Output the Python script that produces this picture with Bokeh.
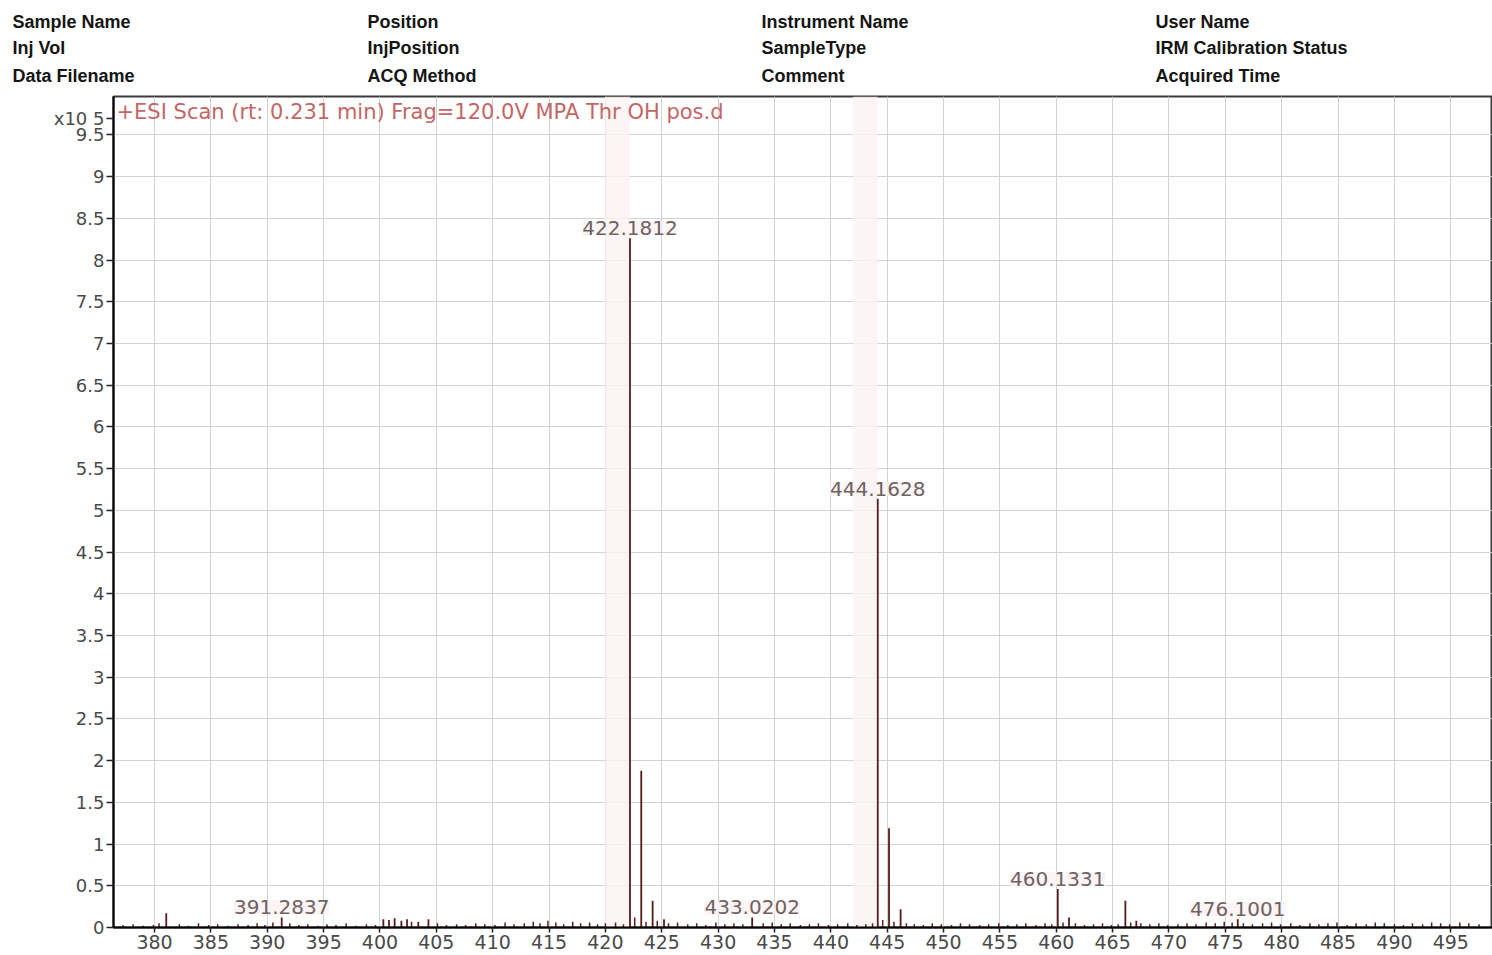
from bokeh.plotting import figure
from bokeh.models import Range1d, FixedTicker, CustomJSTickFormatter, Label, LabelSet, ColumnDataSource
from bokeh.core.properties import value
from bokeh.embed import file_html
from bokeh.resources import INLINE

# ---------------- data ----------------
x_ticks = [380, 385, 390, 395, 400, 405, 410, 415, 420, 425, 430, 435, 440, 445,
           450, 455, 460, 465, 470, 475, 480, 485, 490, 495]
y_ticks = [0, 0.5, 1, 1.5, 2, 2.5, 3, 3.5, 4, 4.5, 5, 5.5, 6, 6.5, 7, 7.5, 8, 8.5, 9, 9.5]
y_multiplier = "x10 5"

# main peaks: m/z and intensity (x10^5 counts)
peak_mz = [381.04, 391.2837, 400.3, 400.8, 401.3, 401.9, 402.4, 403.4, 404.3,
           422.1812, 423.18, 424.19, 425.2, 433.0202, 444.1628, 445.16, 446.19,
           460.1331, 461.13, 466.13, 467.1, 476.1001]
peak_int = [0.17, 0.12, 0.10, 0.09, 0.11, 0.08, 0.10, 0.07, 0.10,
            8.26, 1.88, 0.32, 0.10, 0.12, 5.14, 1.19, 0.22,
            0.46, 0.12, 0.32, 0.08, 0.10]

# labelled peaks
label_mz = [391.2837, 422.1812, 433.0202, 444.1628, 460.1331, 476.1001]
label_int = [0.12, 8.26, 0.12, 5.14, 0.46, 0.10]

# highlighted (selected) peaks
band_mz = [422.1812, 444.1628]

# baseline noise sticks
noise_mz = [
    377.2, 378.1, 379.0, 379.9, 380.4, 382.2, 383.0, 383.9, 384.8, 385.6,
    386.5, 387.4, 388.3, 389.1, 389.8, 390.5, 392.0, 392.8, 393.6, 394.5,
    395.3, 396.1, 397.0, 397.9, 398.8, 399.6, 402.8, 405.1, 405.9, 406.8,
    407.6, 408.5, 409.3, 410.2, 411.1, 411.9, 412.8, 413.6, 414.2, 414.9,
    415.6, 416.3, 417.1, 417.8, 418.6, 419.3, 420.0, 420.9, 421.6, 422.6,
    423.6, 424.6, 425.6, 426.4, 427.3, 428.1, 428.9, 429.8, 430.6, 431.4,
    432.2, 434.0, 434.8, 435.6, 436.4, 437.3, 438.1, 438.9, 439.8, 440.6,
    441.5, 442.3, 443.1, 443.7, 444.6, 445.6, 446.7, 447.4, 448.2, 449.0,
    449.8, 450.7, 451.5, 452.3, 453.2, 454.0, 454.9, 455.7, 456.5, 457.3,
    458.2, 459.0, 459.6, 460.6, 461.7, 462.5, 463.3, 464.1, 464.9, 465.5,
    466.6, 467.5, 468.3, 469.1, 469.9, 470.8, 471.6, 472.4, 473.3, 474.1,
    474.9, 475.6, 476.6, 477.4, 478.3, 479.1, 479.9, 480.8, 481.6, 482.5,
    483.3, 484.1, 484.9, 485.8, 486.6, 487.5, 488.3, 489.1, 490.0, 490.8,
    491.6, 492.5, 493.3, 494.1, 494.9, 495.8, 496.6, 497.5]
noise_int = [
    0.03, 0.04, 0.02, 0.03, 0.05, 0.04, 0.02, 0.05, 0.03, 0.04,
    0.02, 0.04, 0.03, 0.05, 0.03, 0.06, 0.05, 0.03, 0.04, 0.02,
    0.04, 0.03, 0.05, 0.02, 0.04, 0.03, 0.07, 0.05, 0.03, 0.04,
    0.03, 0.05, 0.04, 0.03, 0.06, 0.04, 0.05, 0.07, 0.05, 0.08,
    0.06, 0.04, 0.07, 0.05, 0.06, 0.04, 0.05, 0.06, 0.04, 0.12,
    0.07, 0.08, 0.05, 0.06, 0.04, 0.05, 0.03, 0.06, 0.04, 0.05,
    0.04, 0.05, 0.06, 0.04, 0.05, 0.03, 0.04, 0.05, 0.03, 0.04,
    0.05, 0.03, 0.04, 0.05, 0.09, 0.07, 0.05, 0.04, 0.03, 0.05,
    0.04, 0.03, 0.05, 0.04, 0.03, 0.04, 0.05, 0.03, 0.04, 0.05,
    0.03, 0.05, 0.04, 0.06, 0.05, 0.03, 0.04, 0.05, 0.03, 0.04,
    0.06, 0.05, 0.04, 0.05, 0.03, 0.04, 0.05, 0.04, 0.06, 0.05,
    0.07, 0.06, 0.05, 0.04, 0.05, 0.06, 0.04, 0.05, 0.03, 0.05,
    0.04, 0.05, 0.06, 0.03, 0.05, 0.04, 0.06, 0.05, 0.04, 0.03,
    0.05, 0.04, 0.06, 0.05, 0.04, 0.06, 0.05, 0.04]

header_cols = [
    ["Sample Name", "Inj Vol", "Data Filename"],
    ["Position", "InjPosition", "ACQ Method"],
    ["Instrument Name", "SampleType", "Comment"],
    ["User Name", "IRM Calibration Status", "Acquired Time"],
]
scan_title = "+ESI Scan (rt: 0.231 min) Frag=120.0V MPA  Thr  OH  pos.d"

# ---------------- layout ----------------
W = 1492
HH = 88            # header strip height
H = 865            # main figure height
FL, FT, FB, FR = 113, 8, 26, 0
X0, X1 = 376.36, 498.7
Y0, Y1 = 0.0, 9.96
MULT_Y = 9.70      # vertical place of the "x10 5" multiplier on the y axis


def dx(fx):
    return X0 + (fx - FL) * (X1 - X0) / (W - FL - FR)


def dy(fy):
    return Y0 + (H - FB - fy) * (Y1 - Y0) / (H - FB - FT)


# ---- header strip (pixel-like data space, y downwards) ----
hdr = figure(width=W, height=HH, output_backend="svg", toolbar_location=None,
             x_range=Range1d(0, W), y_range=Range1d(HH, 0),
             x_axis_type=None, y_axis_type=None, min_border=0)
hdr.outline_line_color = None
hdr.grid.visible = False
col_x = [12, 367, 761, 1155]
row_y = [21, 47, 75]
for cx, col in zip(col_x, header_cols):
    for ry, txt in zip(row_y, col):
        hdr.add_layout(Label(x=cx, y=ry, text=txt, text_align="left",
                             text_baseline="middle", text_font="Liberation Sans",
                             text_font_style="bold", text_font_size="18px",
                             text_color="#151515"))

# ---- spectrum ----
p = figure(width=W, height=H, output_backend="svg", toolbar_location=None,
           x_range=Range1d(X0, X1), y_range=Range1d(Y0, Y1),
           min_border_left=FL, min_border_top=FT, min_border_bottom=FB,
           min_border_right=FR)
p.background_fill_color = "white"
p.border_fill_color = "white"
p.outline_line_color = "#3a3a3a"
p.outline_line_width = 2

tick_font = "DejaVu Sans"
for ax in (p.xaxis[0], p.yaxis[0]):
    ax.axis_line_color = "black"
    ax.axis_line_width = 2
    ax.major_tick_line_color = "#222222"
    ax.major_tick_line_width = 1.5
    ax.minor_tick_line_color = None
    ax.major_label_text_font = tick_font
    ax.major_label_text_color = "#4a4a4a"

p.xaxis.ticker = FixedTicker(ticks=x_ticks)
p.xaxis.major_tick_in = 0
p.xaxis.major_tick_out = 5
p.xaxis.major_label_standoff = 2
p.xaxis.major_label_text_font_size = "19px"

p.yaxis.ticker = FixedTicker(ticks=y_ticks + [MULT_Y])
p.yaxis.formatter = CustomJSTickFormatter(
    args=dict(mpos=MULT_Y, mtext=y_multiplier),
    code="return Math.abs(tick - mpos) < 1e-9 ? mtext : String(tick);")
p.yaxis.major_tick_in = 0
p.yaxis.major_tick_out = 7
p.yaxis.major_label_standoff = 2
p.yaxis.major_label_text_font_size = "18px"

p.xgrid.grid_line_color = "#d2d2d2"
p.ygrid.grid_line_color = "#d2d2d2"
p.ygrid.ticker = FixedTicker(ticks=y_ticks)
p.xgrid.grid_line_width = 1
p.ygrid.grid_line_width = 1

# highlight bands behind selected peaks
p.quad(left=[m - 2.2 for m in band_mz], right=band_mz,
       bottom=[Y0] * len(band_mz), top=[Y1] * len(band_mz),
       fill_color="#fdf2f2", fill_alpha=0.8, line_color=None)

# noise sticks
p.segment(x0=noise_mz, y0=[0] * len(noise_mz), x1=noise_mz, y1=noise_int,
          line_color="#5e1e1e", line_width=1.5)
# main peaks
p.segment(x0=peak_mz, y0=[0] * len(peak_mz), x1=peak_mz, y1=peak_int,
          line_color="#5a1a1a", line_width=1.8)

# peak labels
lab_src = ColumnDataSource(dict(x=label_mz, y=label_int,
                                t=[f"{m:.4f}" for m in label_mz]))
p.add_layout(LabelSet(x="x", y="y", text="t", source=lab_src,
                      text_align="center", text_baseline="bottom", y_offset=3,
                      text_font=value(tick_font), text_font_size=value("20px"),
                      text_color=value("#6e6262"),
                      background_fill_color=value("#fcf2f2"),
                      background_fill_alpha=0.8))

# scan title inside the frame
p.add_layout(Label(x=dx(116), y=dy(23), text=scan_title,
                   text_align="left", text_baseline="middle",
                   text_font=tick_font, text_font_size="21px",
                   text_color="#c46666"))

open("out.html", "w").write(file_html([hdr, p], INLINE))
